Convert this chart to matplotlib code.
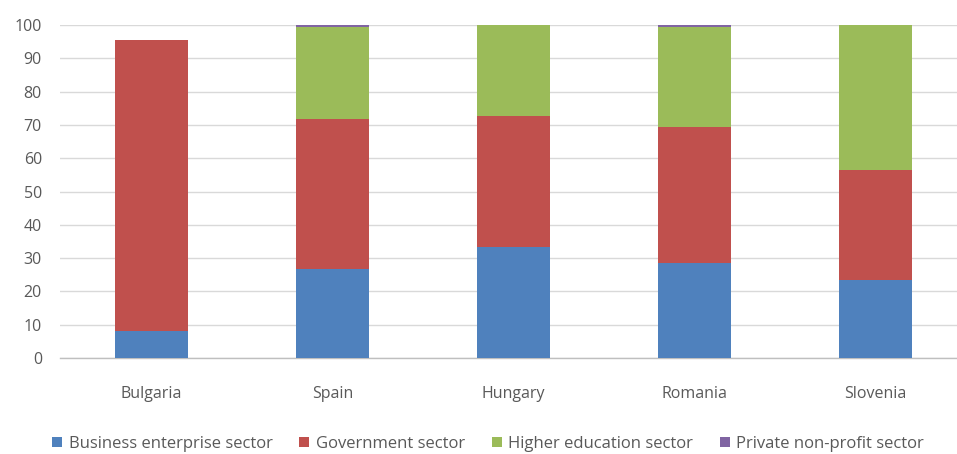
import matplotlib
matplotlib.use("Agg")
import matplotlib.pyplot as plt
import numpy as np

countries = ["Bulgaria", "Spain", "Hungary", "Romania", "Slovenia"]
business = [8.0, 26.8, 33.3, 28.6, 23.5]
government = [87.6, 45.0, 39.4, 40.9, 33.0]
higher_edu = [0.0, 27.7, 27.3, 30.0, 43.5]
private_np = [0.0, 0.5, 0.0, 0.5, 0.0]
series_names = ["Business enterprise sector", "Government sector",
                "Higher education sector", "Private non-profit sector"]
colors = ["#4F81BD", "#C0504D", "#9BBB59", "#8064A2"]
yticks = [0, 10, 20, 30, 40, 50, 60, 70, 80, 90, 100]

plt.rcParams['font.family'] = ['Open Sans', 'DejaVu Sans']

fig = plt.figure(figsize=(9.57, 4.54), dpi=100)
ax = fig.add_axes([60/957, 96/454, 897/957, 333/454])

x = np.arange(len(countries))
bottom = np.zeros(len(countries))
for vals, name, c in zip([business, government, higher_edu, private_np], series_names, colors):
    ax.bar(x, vals, width=0.40, bottom=bottom, color=c, label=name, zorder=3)
    bottom += np.array(vals)

ax.set_ylim(0, 100)
ax.set_xlim(-0.505, 4.45)
ax.set_yticks(yticks)
ax.set_xticks(x)
ax.set_xticklabels(countries)
ax.yaxis.grid(True, color="#D9D9D9", linewidth=1.0, zorder=0)
for s in ["top", "right", "left"]:
    ax.spines[s].set_visible(False)
ax.spines["bottom"].set_color("#BFBFBF")
ax.spines["bottom"].set_linewidth(1.0)
ax.tick_params(axis="both", length=0, labelsize=11.5, colors="#595959")
ax.tick_params(axis="x", pad=20)
ax.tick_params(axis="y", pad=13)

leg = fig.legend(loc="lower center", bbox_to_anchor=(0.51, -0.028), ncol=4, frameon=False,
                 fontsize=12, handlelength=0.6, handleheight=0.6, handletextpad=0.4,
                 columnspacing=1.6)
for t in leg.get_texts():
    t.set_color("#595959")

fig.savefig("out.png", dpi=100)
